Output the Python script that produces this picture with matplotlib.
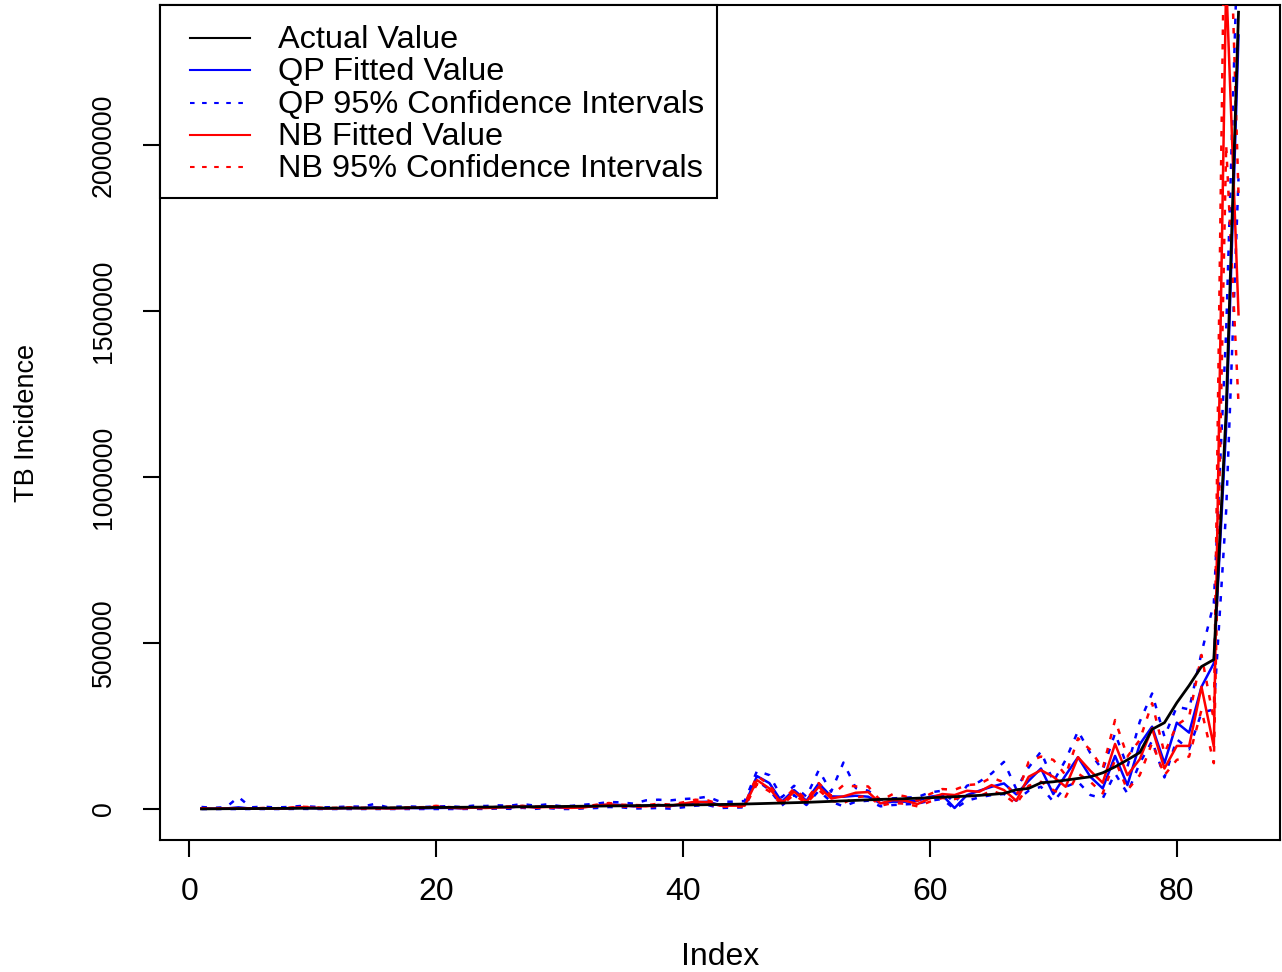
import matplotlib
matplotlib.use("Agg")
import matplotlib.pyplot as plt
from matplotlib.patches import Rectangle
from matplotlib.lines import Line2D
import numpy as np

plt.rcParams['font.family'] = ['Liberation Sans', 'DejaVu Sans']

index = list(range(1, 86))

actual = [300, 600, 900, 1100, 1300, 1500, 1700, 1900, 2100, 2300,
          2500, 2700, 2900, 3100, 3300, 3500, 3800, 4000, 4300, 4600,
          4900, 5200, 5500, 5800, 6100, 6400, 6700, 7000, 7300, 7600,
          8000, 8400, 8800, 9200, 9600, 10000, 10500, 11000, 11500, 12000,
          12500, 13000, 13600, 14200, 15000, 16000, 17000, 18000, 19000, 20000,
          21500, 23000, 24500, 26000, 27500, 29000, 30000, 31000, 32500, 34000,
          35500, 37000, 39000, 41000, 44000, 47000, 58000, 62000, 79000, 82000,
          87000, 92000, 97000, 109000, 127000, 148000, 170000, 240000, 260000, 320000,
          372000, 429000, 450000, 1200000, 2400000]

qp_fit = [2000, 800, 1500, 5000, 1200, 2500, 1000, 1800, 4000, 2500,
          1500, 2000, 3000, 2500, 5000, 2000, 2500, 3000, 2000, 3000,
          3500, 2000, 5000, 4000, 6000, 5000, 9000, 5000, 8000, 4000,
          4500, 7000, 9000, 13000, 12000, 8000, 10000, 12000, 9000, 14000,
          20000, 22000, 12000, 12000, 13000, 99000, 78000, 22000, 57000, 25000,
          77000, 38000, 37000, 40000, 37000, 17000, 22000, 22000, 25000, 37000,
          42000, 3000, 42000, 55000, 67000, 77000, 44000, 85000, 122000, 45000,
          102000, 156000, 97000, 62000, 160000, 72000, 195000, 248000, 138000, 260000,
          230000, 368000, 439000, 1150000, 2330000]

qp_up = [6000, 3500, 5500, 36000, 5000, 7000, 4500, 6000, 9000, 7000,
         5000, 6000, 7500, 7000, 15000, 6000, 7000, 7500, 6000, 7500,
         8500, 6000, 10000, 9000, 11000, 10000, 15000, 10000, 14000, 9000,
         9500, 13000, 16000, 21000, 20000, 16000, 26000, 28000, 26000, 30000,
         32000, 37000, 22000, 22000, 24000, 115000, 102000, 35000, 70000, 37000,
         117000, 52000, 140000, 63000, 55000, 28000, 32000, 34000, 36000, 50000,
         55000, 18000, 70000, 82000, 107000, 142000, 60000, 125000, 173000, 82000,
         148000, 235000, 168000, 117000, 228000, 127000, 263000, 348000, 218000, 308000,
         300000, 470000, 620000, 1440000, 2700000]

qp_lo = [0, 0, 0, 0, 0, 0, 0, 0, 500, 0,
         0, 0, 0, 0, 0, 0, 0, 0, 0, 0,
         0, 0, 500, 0, 1500, 500, 3500, 500, 3000, 0,
         0, 2000, 3000, 6000, 5000, 1500, 2000, 3000, 1000, 5000,
         10000, 12000, 3000, 4000, 5000, 85000, 58000, 10000, 42000, 12000,
         55000, 22000, 8000, 22000, 25000, 8000, 12000, 14000, 16000, 25000,
         30000, 0, 25000, 35000, 42000, 45000, 25000, 55000, 67000, 22000,
         67000, 82000, 42000, 32000, 107000, 47000, 138000, 205000, 95000, 210000,
         180000, 290000, 300000, 900000, 1900000]

nb_fit = [1500, 800, 1500, 1500, 1200, 2000, 1500, 2500, 5000, 4000,
          2000, 2500, 3500, 2500, 2500, 2000, 2500, 3500, 4000, 7000,
          4500, 2500, 4000, 3000, 4500, 6000, 7000, 5000, 6000, 5000,
          3500, 5000, 10000, 14000, 10000, 9000, 8000, 12000, 10000, 16000,
          22000, 20000, 10000, 10000, 10000, 87000, 62000, 17000, 52000, 22000,
          67000, 32000, 38000, 49000, 51000, 17000, 27000, 25000, 15000, 32000,
          45000, 42000, 55000, 52000, 72000, 57000, 25000, 97000, 117000, 97000,
          67000, 156000, 115000, 79000, 196000, 102000, 150000, 243000, 122000, 190000,
          190000, 368000, 188000, 2500000, 1490000]

nb_up = [2200, 1200, 2200, 2200, 1800, 3000, 2200, 3500, 7000, 5500,
         3000, 3500, 5000, 3500, 3500, 3000, 3500, 5000, 5500, 9500,
         6000, 3500, 5500, 4200, 6000, 8000, 9500, 7000, 8000, 7000,
         5000, 7000, 13000, 18000, 13000, 12000, 11000, 16000, 13000, 20000,
         28000, 26000, 14000, 14000, 14000, 100000, 72000, 22000, 62000, 28000,
         78000, 40000, 72000, 68000, 68000, 25000, 45000, 38000, 25000, 45000,
         60000, 58000, 72000, 75000, 95000, 80000, 38000, 142000, 158000, 148000,
         102000, 213000, 178000, 122000, 268000, 158000, 208000, 319000, 168000, 253000,
         278000, 464000, 268000, 3100000, 1850000]

nb_lo = [1100, 600, 1100, 1100, 900, 1500, 1100, 1900, 3700, 3000,
         1500, 1900, 2600, 1900, 1900, 1500, 1900, 2600, 3000, 5200,
         3400, 1900, 3000, 2200, 3400, 4500, 5200, 3700, 4500, 3700,
         2600, 3700, 7500, 10500, 7500, 6700, 6000, 9000, 7500, 12000,
         16000, 15000, 7000, 7000, 7000, 75000, 53000, 13000, 43000, 17000,
         57000, 25000, 18000, 35000, 40000, 10000, 18000, 16000, 8000, 22000,
         33000, 30000, 40000, 38000, 55000, 42000, 15000, 70000, 82000, 57000,
         37000, 107000, 82000, 47000, 148000, 57000, 102000, 199000, 102000, 148000,
         158000, 298000, 138000, 2000000, 1220000]

legend_labels = ["Actual Value", "QP Fitted Value", "QP 95% Confidence Intervals",
                 "NB Fitted Value", "NB 95% Confidence Intervals"]
x_ticks = [0, 20, 40, 60, 80]
y_ticks = [0, 500000, 1000000, 1500000, 2000000]
y_tick_labels = ["0", "500000", "1000000", "1500000", "2000000"]

W, H = 1282, 972
fig = plt.figure(figsize=(W / 100, H / 100), dpi=100)
ax_l, ax_r, ax_t, ax_b = 160, 1280, 5, 840
ax = fig.add_axes([ax_l / W, 1 - ax_b / H, (ax_r - ax_l) / W, (ax_b - ax_t) / H])

LW = 1.8
dot = (0, (2.2, 3.6))
BLUE = "#0000FF"
RED = "#FF0000"

ax.plot(index, qp_fit, color=BLUE, lw=LW, zorder=2)
ax.plot(index, qp_up, color=BLUE, lw=LW, ls=dot, zorder=2)
ax.plot(index, qp_lo, color=BLUE, lw=LW, ls=dot, zorder=2)
ax.plot(index, nb_fit, color=RED, lw=LW, zorder=3)
ax.plot(index, nb_up, color=RED, lw=LW, ls=dot, zorder=3)
ax.plot(index, nb_lo, color=RED, lw=LW, ls=dot, zorder=3)
ax.plot(index, actual, color="black", lw=LW + 0.2, zorder=4)

ax.set_xlim(1 - 0.04 * 84, 85 + 0.04 * 84)
ax.set_ylim(-93373, 2421690)

ax.set_xticks(x_ticks)
ax.set_xticklabels([str(v) for v in x_ticks], fontsize=23)
ax.set_yticks(y_ticks)
ax.set_yticklabels(y_tick_labels, fontsize=19.2, rotation=90, va="center")
ax.tick_params(axis="x", length=12, width=1.5, pad=15, direction="out")
ax.tick_params(axis="y", length=12, width=1.5, pad=19, direction="out")
for s in ax.spines.values():
    s.set_linewidth(1.5)

ax.set_xlabel("Index", fontsize=23, va="top")
ax.xaxis.set_label_coords(0.5, -(942 - ax_b) / (ax_b - ax_t))
ax.set_ylabel("TB Incidence", fontsize=19.5)
ax.yaxis.set_label_coords((40 - ax_l) / (ax_r - ax_l), 0.5)


def axx(px):
    return (px - ax_l) / (ax_r - ax_l)


def axy(py):
    return (ax_b - py) / (ax_b - ax_t)


# legend box (R style)
ax.add_patch(Rectangle((axx(160), axy(198)), axx(717) - axx(160), axy(5) - axy(198),
                       transform=ax.transAxes, facecolor="white", edgecolor="black",
                       lw=1.5, zorder=10, clip_on=False))
rows = [38, 70, 103, 135, 167]
styles = [("black", "-"), (BLUE, "-"), (BLUE, dot), (RED, "-"), (RED, dot)]
for py, (c, ls), lab in zip(rows, styles, legend_labels):
    ax.add_line(Line2D([axx(190), axx(250)], [axy(py), axy(py)], color=c, ls=ls,
                       lw=LW - 0.3, transform=ax.transAxes, zorder=11, clip_on=False))
    ax.text(axx(278), axy(py + 10), lab, transform=ax.transAxes, fontsize=23.4,
            va="baseline", ha="left", zorder=12)

fig.savefig("out.png", dpi=100)
